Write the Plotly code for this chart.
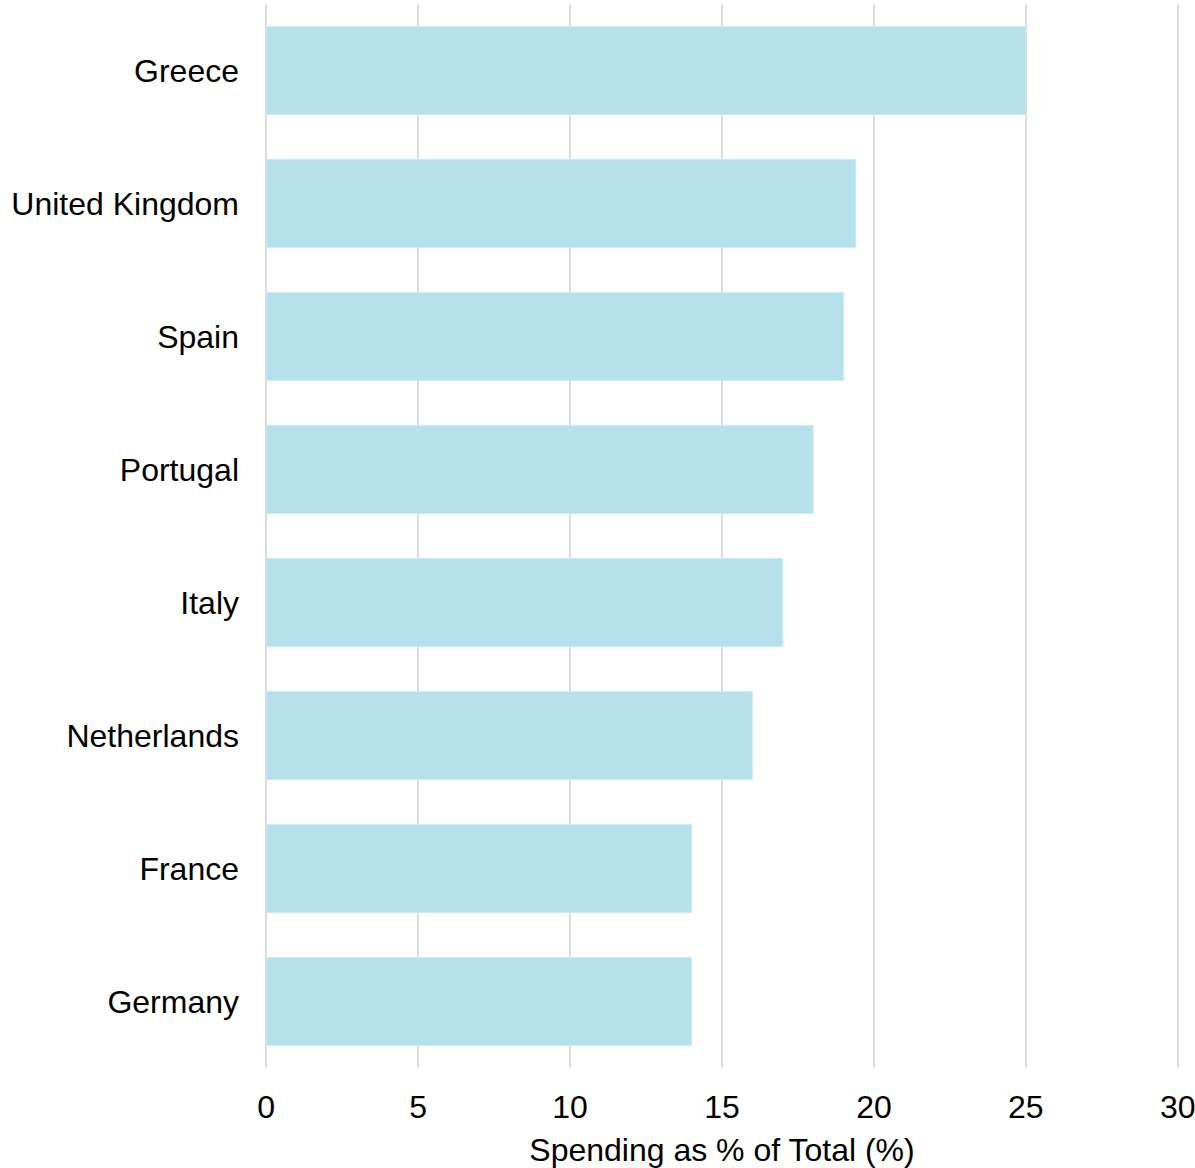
import plotly.graph_objects as go

countries = ["Greece", "United Kingdom", "Spain", "Portugal", "Italy",
             "Netherlands", "France", "Germany"]
spending_pct = [25, 19.4, 19, 18, 17, 16, 14, 14]
x_ticks = [0, 5, 10, 15, 20, 25, 30]

font_family = "Liberation Sans, Arial, sans-serif"

fig = go.Figure(
    go.Bar(
        x=spending_pct,
        y=countries,
        orientation="h",
        marker=dict(color="#b6e0eb", line=dict(color="#c9ecf5", width=1)),
        width=0.66,
    )
)

fig.update_layout(
    width=1195,
    height=1168,
    margin=dict(l=265, r=16, t=4, b=100),
    plot_bgcolor="white",
    paper_bgcolor="white",
    font=dict(family=font_family, size=32, color="#000000"),
    showlegend=False,
)

fig.update_xaxes(
    range=[-0.04, 30.04],
    tickvals=x_ticks,
    ticktext=[str(v) for v in x_ticks],
    showgrid=True,
    gridcolor="#dcdcdc",
    gridwidth=2,
    zeroline=False,
    showline=False,
    ticks="",
    automargin=False,
    ticklabeloverflow="allow",
    ticklabelstandoff=17,
    title=dict(text="Spending as % of Total (%)", standoff=18,
               font=dict(size=32)),
    tickfont=dict(size=32),
)

fig.update_yaxes(
    categoryorder="array",
    categoryarray=countries[::-1],
    showgrid=False,
    zeroline=False,
    showline=False,
    ticks="",
    automargin=False,
    ticklabelstandoff=25,
    tickfont=dict(size=32),
)

fig.write_html("out.html")
